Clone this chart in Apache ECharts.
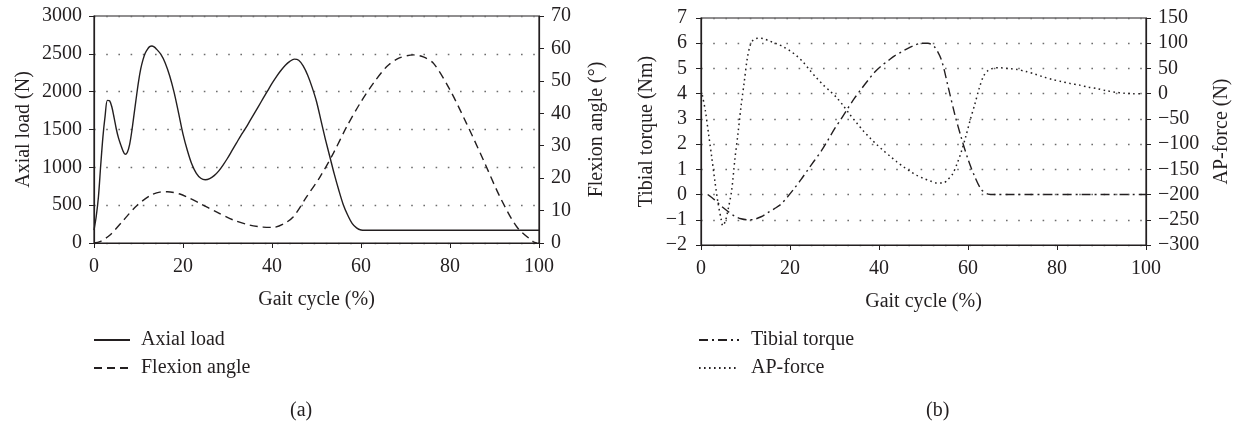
<!DOCTYPE html>
<html>
<head>
<meta charset="utf-8">
<script src="https://cdn.jsdelivr.net/npm/echarts@6/dist/echarts.min.js"></script>
<style>
html,body{margin:0;padding:0;background:#fff;}
#chart{width:1234px;height:421px;}
</style>
</head>
<body>
<div id="chart"></div>
<script>
// ---- Data ----
var axialGait = [0,0.5,1,1.5,2,2.5,3,3.5,4,4.5,5,5.5,6,6.5,7,7.5,8,8.5,9,9.5,10,10.5,11,11.5,12,12.5,13,13.5,14,15,16,17,18,19,20,21,22,23,24,25,26,27,28,29,30,31,32,33,34,35,36,37,38,39,40,41,42,43,44,45,46,47,48,49,50,51,52,53,54,55,56,57,58,59,60,61,100];
var axialLoad = [170,350,612,1020,1400,1680,1885,1880,1800,1660,1510,1390,1300,1220,1172,1200,1300,1480,1700,1920,2130,2300,2420,2508,2560,2595,2604,2592,2565,2495,2380,2210,1990,1720,1440,1220,1040,920,855,835,850,890,950,1030,1120,1220,1320,1420,1510,1610,1710,1810,1910,2010,2110,2200,2280,2350,2400,2430,2415,2340,2220,2060,1870,1620,1370,1140,910,700,510,370,260,200,172,168,168];

var flexGait = [0,1.35,3.6,6.6,9.6,12.6,14.8,16.5,19.3,21.5,23.8,27.5,31.3,35,38,40.3,42.5,44.8,47.8,50.8,53.8,56.8,59.8,62.8,65.8,68.5,71.8,74,76.3,80,83.7,87.5,91.2,95,98.7,99.5];
var flexAngle = [0,0.4,2.5,7,11.5,14.6,15.7,15.8,15.1,13.8,12.2,9.6,7.1,5.5,4.9,4.8,5.8,8.1,14.3,20.4,27.7,35.9,43.1,49.3,54.4,57,58,57.4,55.4,47.2,36.9,25.6,14.3,5.0,0.4,0];

var torqueGait = [1.5,3,4.5,6,7.5,9,10.5,12,13.5,15,16.5,18,19.5,21,22.5,24,25.5,27,28.5,30,31.5,33,34.5,36,37.5,39,40.5,42,43.5,45,46.5,48,49.5,51,52.5,54,55.5,57,58.5,60,61.5,63,64.5,66,100];
var torqueVal = [0,-0.2,-0.45,-0.66,-0.85,-0.96,-1.0,-0.98,-0.88,-0.72,-0.56,-0.38,-0.08,0.25,0.6,0.98,1.35,1.72,2.15,2.6,3.0,3.42,3.82,4.18,4.52,4.85,5.1,5.3,5.5,5.65,5.8,5.92,6.0,6.0,5.85,5.35,4.3,3.2,2.25,1.4,0.72,0.2,0.02,0,0];

var apGait = [0.3,1,1.7,2.4,3.1,3.8,4.5,4.9,5.5,6.2,6.9,7.6,8.3,9,9.7,10.4,11.1,11.8,12.8,14,15.5,17,18.5,20,21.5,23,24.5,26,27.5,29,30.5,32,33.5,35,36.5,38,39.5,41,42.5,44,45.5,47,48.5,50,51.5,53,54.5,55.5,56.5,57.5,58.5,59.5,60.5,61.5,62.5,63.5,64.5,65.5,67,69,71,73,75,77,79,81,83,85,87,89,91,93,95,97,99];
var apForce = [-3,-35,-80,-125,-172,-215,-248,-262,-252,-225,-191,-131,-80,-25,22,70,97,107,110,109,104,99,93,85,75,62,46,31,17,5,-8,-24,-42,-58,-74,-88,-101,-113,-124,-135,-145,-154,-162,-168,-173,-177,-177,-170,-160,-140,-115,-85,-52,-22,10,35,46,50,51.5,50,48,44,39,33,28,24,20,17,13,10,6,3,1,0,0];

var xTicks = [0,100,20];          // min, max, interval of gait cycle axis
var axialTicks = [0,3000,500];
var flexTicks = [0,70,10];
var torqueTicks = [-2,7,1];
var apTicks = [-300,150,50];

function pairs(xs, ys){ return xs.map(function(x,i){ return [x, ys[i]]; }); }

var FONT = 'Liberation Serif';
var INK = '#231f20';
var minus = function(v){ return String(v).replace('-', '\u2212'); };

function xAxisCfg(gi){
  return {
    type:'value', gridIndex:gi, min:xTicks[0], max:xTicks[1], interval:xTicks[2],
    name:'Gait cycle (%)', nameLocation:'middle', nameGap:47,
    nameTextStyle:{fontFamily:FONT, fontSize:20, color:INK},
    axisLine:{show:true, onZero:false, lineStyle:{color:INK, width:1.2}},
    axisTick:{show:true, length:5, lineStyle:{color:INK}},
    axisLabel:{fontFamily:FONT, fontSize:20, color:INK, margin:14},
    splitLine:{show:false}
  };
}
function yAxisCfg(gi, t, name, pos, gap, split, lblMargin){
  return {
    type:'value', gridIndex:gi, position:pos, min:t[0], max:t[1], interval:t[2],
    name:name, nameLocation:'middle', nameGap:gap, nameRotate:90,
    nameTextStyle:{fontFamily:FONT, fontSize:20, color:INK},
    axisLine:{show:true, onZero:false, lineStyle:{color:INK, width:1.2}},
    axisTick:{show:true, length:5, lineStyle:{color:INK}},
    axisLabel:{fontFamily:FONT, fontSize:20, color:INK, margin:lblMargin, formatter:minus},
    splitLine:{show:split, lineStyle:{color:'#6d6d6d', width:1.3, type:[1.6,10.6]}}
  };
}
function lineSeries(name, xi, yi, data, dash, width){
  return {
    name:name, type:'line', xAxisIndex:xi, yAxisIndex:yi, data:data,
    smooth:0.3, symbol:'none', animation:false,
    lineStyle:{color:INK, width:width, type:dash},
    itemStyle:{color:INK}
  };
}

var chart = echarts.init(document.getElementById('chart'));
chart.setOption({
  backgroundColor:'#ffffff',
  animation:false,
  grid:[
    {left:94, top:16, width:445, height:227, show:true, borderColor:INK, borderWidth:1.2},
    {left:701, top:18, width:445, height:227, show:true, borderColor:INK, borderWidth:1.2}
  ],
  xAxis:[xAxisCfg(0), xAxisCfg(1)],
  yAxis:[
    yAxisCfg(0, axialTicks, 'Axial load (N)', 'left', 60, true, 12),
    yAxisCfg(0, flexTicks, 'Flexion angle (°)', 'right', 48, false, 12),
    yAxisCfg(1, torqueTicks, 'Tibial torque (Nm)', 'left', 44, true, 14),
    yAxisCfg(1, apTicks, 'AP-force (N)', 'right', 66, false, 12)
  ],
  legend:[
    {data:['Axial load','Flexion angle'], orient:'vertical', left:88, top:325,
     itemWidth:36, itemHeight:14, itemGap:8, itemStyle:{opacity:0},
     textStyle:{fontFamily:FONT, fontSize:20, color:INK, lineHeight:20, padding:[0,0,0,6]}},
    {data:['Tibial torque','AP-force'], orient:'vertical', left:693, top:325,
     itemWidth:40, itemHeight:14, itemGap:8, itemStyle:{opacity:0},
     textStyle:{fontFamily:FONT, fontSize:20, color:INK, lineHeight:20, padding:[0,0,0,7]}}
  ],
  graphic:[
    {type:'text', left:290, top:401, style:{text:'(a)', font:'20px "Liberation Serif"', fill:INK}},
    {type:'text', left:926, top:401, style:{text:'(b)', font:'20px "Liberation Serif"', fill:INK}}
  ],
  series:[
    lineSeries('Axial load', 0, 0, pairs(axialGait, axialLoad), 'solid', 1.4),
    lineSeries('Flexion angle', 0, 1, pairs(flexGait, flexAngle), [8,5], 1.4),
    lineSeries('Tibial torque', 1, 2, pairs(torqueGait, torqueVal), [9,4,2,4], 1.4),
    lineSeries('AP-force', 1, 3, pairs(apGait, apForce), [1.6,3.4], 1.5)
  ]
});
</script>
</body>
</html>
